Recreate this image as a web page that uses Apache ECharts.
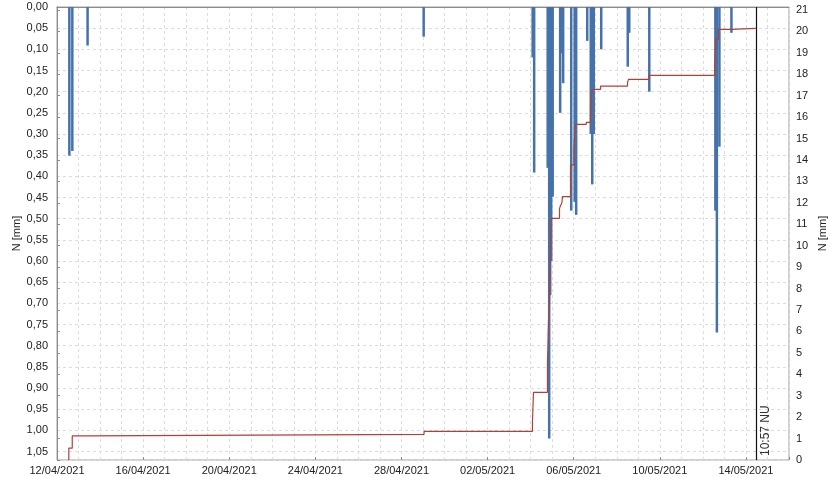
<!DOCTYPE html>
<html>
<head>
<meta charset="utf-8">
<script src="https://cdn.jsdelivr.net/npm/echarts@6/dist/echarts.min.js"></script>
<style>html,body{margin:0;padding:0;background:#fff}#c{width:840px;height:477px}</style>
</head>
<body>
<div id="c"></div>
<script>
// Precipitation bars (left axis, N [mm], inverted)
const barTimes = [
  '2021-04-12 13:45','2021-04-12 17:05','2021-04-13 10:05','2021-04-29 00:45',
  '2021-05-04 02:15','2021-05-04 03:55','2021-05-04 19:00','2021-05-04 20:40',
  '2021-05-04 21:45','2021-05-04 22:55','2021-05-05 00:35','2021-05-05 08:55',
  '2021-05-05 10:35','2021-05-05 12:15','2021-05-05 21:15','2021-05-06 01:05',
  '2021-05-06 02:45','2021-05-06 15:05','2021-05-06 19:00','2021-05-06 20:40',
  '2021-05-06 22:20','2021-05-07 06:40','2021-05-08 12:15','2021-05-08 13:55',
  '2021-05-09 12:15','2021-05-12 13:55','2021-05-12 15:35','2021-05-12 18:25',
  '2021-05-13 07:50'
];
const barValues = [
  0.351, 0.340, 0.091, 0.070,
  0.119, 0.391, 0.380, 1.019,
  0.680, 0.600, 0.448, 0.250,
  0.109, 0.180, 0.481, 0.460,
  0.491, 0.080, 0.300, 0.419,
  0.300, 0.100, 0.141, 0.061,
  0.200, 0.481, 0.769, 0.330,
  0.061
];
// Cumulative step line (right axis, N [mm])
const cumTimes = [
  '2021-04-12 13:10','2021-04-12 13:10','2021-04-12 17:00','2021-04-13 09:45','2021-04-29 01:10',
  '2021-05-04 02:00','2021-05-04 03:10','2021-05-04 18:45','2021-05-04 19:55','2021-05-04 21:00',
  '2021-05-04 21:50','2021-05-04 22:50','2021-05-05 08:10','2021-05-05 09:15','2021-05-05 10:50',
  '2021-05-05 11:30','2021-05-05 20:25','2021-05-06 00:15','2021-05-06 01:40','2021-05-06 14:00',
  '2021-05-06 18:45','2021-05-06 19:35','2021-05-06 20:40','2021-05-07 05:55','2021-05-08 12:00',
  '2021-05-08 13:00','2021-05-09 12:00','2021-05-12 13:10','2021-05-12 14:25','2021-05-12 17:20',
  '2021-05-13 07:30','2021-05-14 10:57'
];
const cumValues = [
  0, 0.55, 1.13, 1.20, 1.34,
  1.76, 3.16, 4.51, 6.53, 7.28,
  9.25, 11.28, 11.73, 11.87, 12.01,
  12.29, 13.77, 14.55, 15.66, 15.76,
  16.10, 16.95, 17.30, 17.45, 17.61,
  17.76, 17.95, 18.42, 19.63, 20.10,
  20.14, 20.14
];
const markTime = '2021-05-14 10:57';
const markLabel = '10:57 NU';
const leftName = 'N [mm]';
const rightName = 'N [mm]';
const axisStart = '2021-04-12 00:00';
const axisDays = 34;

const DAY = 86400000;
function utc(s){const [d,t]=s.split(' ');const [Y,M,D]=d.split('-').map(Number);const [h,m]=t.split(':').map(Number);return Date.UTC(Y,M-1,D,h,m);}
const origin = utc(axisStart);
const dayOf = s => (utc(s)-origin)/DAY;
function fmtDay(v){const d=new Date(origin+Math.round(v)*DAY);const p=n=>String(n).padStart(2,'0');return p(d.getUTCDate())+'/'+p(d.getUTCMonth()+1)+'/'+d.getUTCFullYear();}

const FONT = '"Liberation Sans", Arial, sans-serif';
const chart = echarts.init(document.getElementById('c'), null, {renderer:'canvas'});
chart.setOption({
  animation:false,
  backgroundColor:'#fff',
  textStyle:{fontFamily:FONT},
  grid:{left:57,right:51,top:7,bottom:17,containLabel:false,outerBoundsMode:'none',
    show:true,borderColor:'#a0a0a0',borderWidth:1,backgroundColor:'transparent'},
  xAxis:[{
    type:'value',min:0,max:axisDays,interval:1,
    axisLine:{lineStyle:{color:'#8c8c8c'}},
    axisTick:{show:false},
    axisLabel:{margin:5,fontSize:11,color:'#222',fontFamily:FONT,
      formatter:v=> (Math.round(v)%4===0 && Math.round(v)<axisDays) ? fmtDay(v) : ''},
    splitLine:{show:true,lineStyle:{color:'#dcdcdc',type:[3,3]}}
  },{
    type:'value',min:0,max:axisDays,interval:4,position:'bottom',
    axisLine:{show:false},axisLabel:{show:false},splitLine:{show:false},
    axisTick:{show:true,length:3,inside:true,lineStyle:{color:'#8c8c8c'}}
  }],
  yAxis:[{
    type:'value',inverse:true,min:0,max:1.07,interval:0.05,position:'left',
    name:leftName,nameLocation:'middle',nameRotate:90,nameGap:35,nameMoveOverlap:false,
    nameTextStyle:{fontSize:11,color:'#222',fontFamily:FONT},
    axisLine:{show:true,lineStyle:{color:'#8c8c8c'}},
    axisTick:{show:false},
    axisLabel:{showMaxLabel:false,margin:9,fontSize:11,color:'#222',fontFamily:FONT,
      formatter:v=>v.toFixed(2).replace('.',',')},
    splitLine:{show:true,lineStyle:{color:'#dcdcdc',type:[3,3]}}
  },{
    type:'value',min:0,max:21.14,interval:1,position:'right',
    name:rightName,nameLocation:'middle',nameRotate:90,nameGap:28,nameMoveOverlap:false,
    nameTextStyle:{fontSize:11,color:'#222',fontFamily:FONT},
    axisLine:{show:true,lineStyle:{color:'#8c8c8c'}},
    axisTick:{show:true,length:3,lineStyle:{color:'#8c8c8c'}},
    axisLabel:{showMaxLabel:false,margin:7,fontSize:11,color:'#222',fontFamily:FONT},
    splitLine:{show:false}
  }],
  series:[{
    type:'bar',xAxisIndex:0,yAxisIndex:0,barWidth:2.5,
    itemStyle:{color:'#4672aa'},
    data:barTimes.map((t,i)=>[dayOf(t),barValues[i]])
  },{
    type:'line',xAxisIndex:0,yAxisIndex:1,step:'end',showSymbol:false,symbol:'none',
    lineStyle:{color:'#b0403a',width:1.2},
    data:cumTimes.map((t,i)=>[dayOf(t),cumValues[i]]),
    markLine:{silent:true,symbol:['none','none'],
      lineStyle:{color:'#111',type:'solid',width:1.2},
      label:{show:true,formatter:markLabel,position:'insideStartBottom',distance:4,fontSize:12,color:'#333',fontFamily:FONT},
      data:[{xAxis:dayOf(markTime)}]}
  }]
});
</script>
</body>
</html>
